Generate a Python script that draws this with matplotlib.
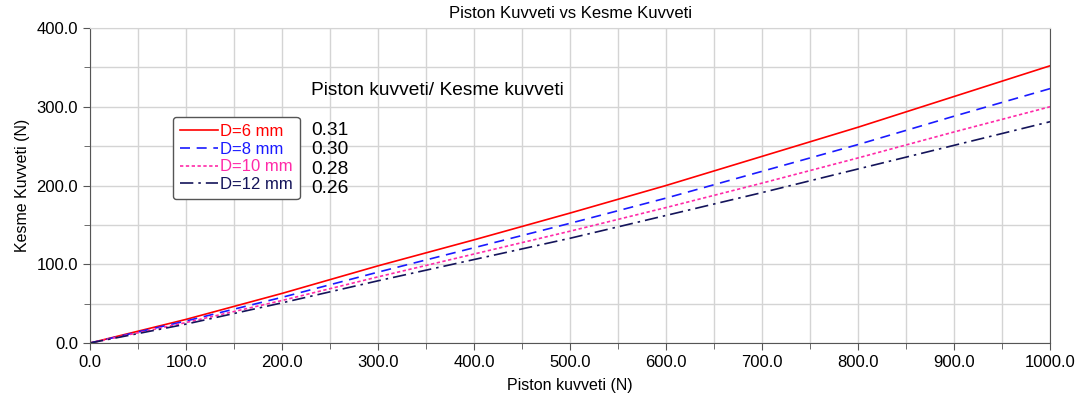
import numpy as np
import matplotlib
matplotlib.use("Agg")
import matplotlib.pyplot as plt
from matplotlib.ticker import MultipleLocator, FormatStrFormatter

plt.rcParams['font.family'] = ['Liberation Sans', 'DejaVu Sans']

# data
piston = [0, 100, 200, 300, 400, 500, 600, 700, 800, 900, 1000]
kesme_d6 = [0, 30, 63, 98, 131, 165, 200, 237, 274, 313, 352]
kesme_d8 = [0, 28, 58, 90, 121, 152, 184, 218, 252, 288, 323]
kesme_d10 = [0, 26, 54, 84, 113, 142, 172, 203, 235, 268, 300]
kesme_d12 = [0, 24, 51, 79, 106, 133, 162, 191, 221, 251, 281]
labels = ["D=6 mm", "D=8 mm", "D=10 mm", "D=12 mm"]
ratios = ["0.31", "0.30", "0.28", "0.26"]

colors = ['#ff0000', '#1a1aff', '#ff2aa8', '#14145a']
styles = ['-', (0, (6, 4)), (0, (2, 1.5)), (0, (8, 3, 1.5, 3))]

fig = plt.figure(figsize=(10.86, 4.01), dpi=100)
ax = fig.add_axes([0.0829, 0.1446, 0.884, 0.7856])

series = [kesme_d6, kesme_d8, kesme_d10, kesme_d12]
for ys, c, ls, lab in zip(series, colors, styles, labels):
    ax.plot(piston, ys, color=c, linestyle=ls, linewidth=1.2, label=lab)

ax.set_xlim(0, 1000)
ax.set_ylim(0, 400)
ax.xaxis.set_major_locator(MultipleLocator(100))
ax.xaxis.set_minor_locator(MultipleLocator(50))
ax.yaxis.set_major_locator(MultipleLocator(100))
ax.yaxis.set_minor_locator(MultipleLocator(50))
ax.xaxis.set_major_formatter(FormatStrFormatter('%.1f'))
ax.yaxis.set_major_formatter(FormatStrFormatter('%.1f'))
ax.tick_params(which='both', direction='out', color='#555555', labelsize=12, length=5)
ax.tick_params(which='minor', length=4)
ax.grid(which='both', color='#d4d4d4', linewidth=1)
ax.set_axisbelow(True)
for s in ['left', 'bottom', 'right']:
    ax.spines[s].set_color('#555555')
ax.spines['top'].set_color('#d4d4d4')

ax.set_title("Piston Kuvveti vs Kesme Kuvveti", fontsize=12, pad=7)
ax.set_xlabel("Piston kuvveti (N)", fontsize=11.5, labelpad=6)
ax.set_ylabel("Kesme Kuvveti (N)", fontsize=11.5, labelpad=5)

leg = ax.legend(loc='upper left', bbox_to_anchor=(0.0865, 0.717), fontsize=12,
                handlelength=2.3, handletextpad=0.1, labelspacing=0.16,
                borderpad=0.42, borderaxespad=0, frameon=True, fancybox=True,
                framealpha=1)
leg.get_frame().set_edgecolor('#555555')
for txt, c in zip(leg.get_texts(), colors):
    txt.set_color(c)

ax.text(0.230, 0.80, "Piston kuvveti/ Kesme kuvveti", transform=ax.transAxes,
        fontsize=13.8, va='center')
for i, r in enumerate(ratios):
    ax.text(0.230, 0.676 - i * 0.062, r, transform=ax.transAxes,
            fontsize=13.8, va='center')

fig.savefig("out.png", dpi=100)
